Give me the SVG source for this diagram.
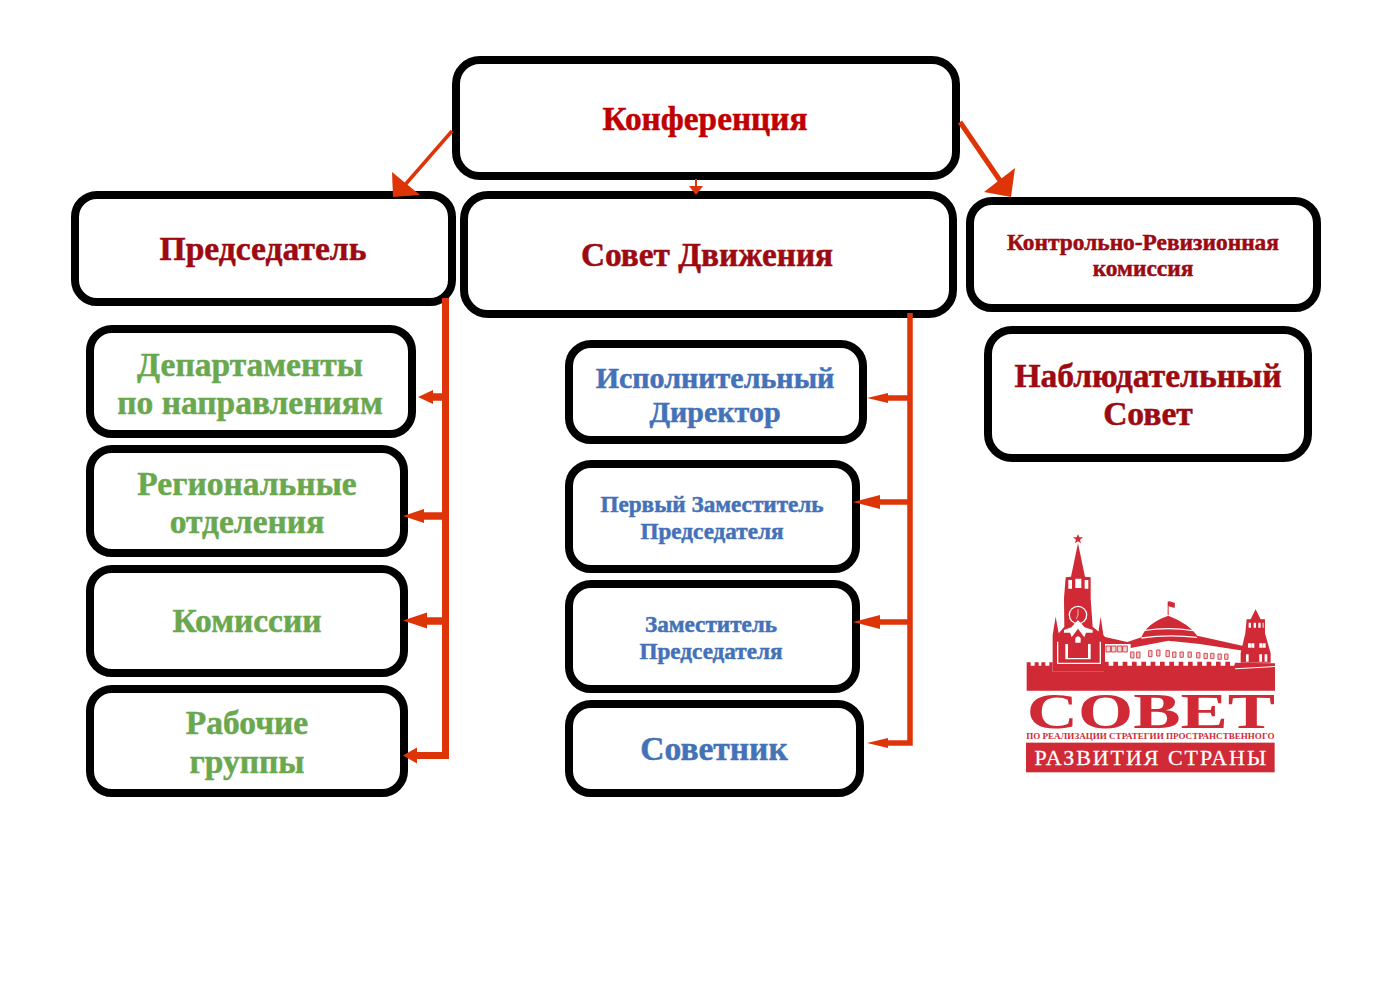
<svg xmlns="http://www.w3.org/2000/svg" width="1400" height="989" viewBox="0 0 1400 989">
<style>
.box{fill:#fff;stroke:#000;stroke-width:8}
text{font-family:"Liberation Serif","Times New Roman",serif;font-weight:bold;text-anchor:middle;stroke-width:.5}
.red{fill:#c00000;stroke:#c00000}.dark{fill:#9c0a12;stroke:#9c0a12}.green{fill:#6aa84f;stroke:#6aa84f}.blue{fill:#4472b8;stroke:#4472b8}
.trunk{fill:none;stroke:#de3508}
.head{fill:#de3508}
.w{fill:#fff}.l{fill:#cf2a35}.p{fill:#f3d5d5;stroke:#cf2a35;stroke-width:2.500}
</style>
<g id="konf"><rect class="box" x="456" y="60" width="500" height="116" rx="24"/><text class="red" x="705" y="130" font-size="33.300">Конференция</text></g>
<g id="pred"><rect class="box" x="75" y="195" width="377" height="107" rx="22"/><text class="dark" x="263" y="260" font-size="33.600">Председатель</text></g>
<g id="sovet"><rect class="box" x="464" y="195" width="489" height="119" rx="24"/><text class="dark" x="707" y="266" font-size="33.300">Совет Движения</text></g>
<g id="krk"><rect class="box" x="970" y="201" width="347" height="107" rx="22"/><text class="dark" font-size="23.400"><tspan x="1143" y="250">Контрольно-Ревизионная</tspan><tspan x="1143" y="276">комиссия</tspan></text></g>
<g id="nabl"><rect class="box" x="988" y="330" width="320" height="128" rx="24"/><text class="dark" font-size="33.600"><tspan x="1148" y="387">Наблюдательный</tspan><tspan x="1148" y="425">Совет</tspan></text></g>
<g id="dep"><rect class="box" x="90" y="329" width="322" height="105" rx="22"/><text class="green" font-size="33.500"><tspan x="250" y="376">Департаменты</tspan><tspan x="250" y="414">по направлениям</tspan></text></g>
<g id="reg"><rect class="box" x="90" y="449" width="314" height="104" rx="22"/><text class="green" font-size="33.500"><tspan x="247" y="495">Региональные</tspan><tspan x="247" y="533">отделения</tspan></text></g>
<g id="kom"><rect class="box" x="90" y="569" width="314" height="104" rx="22"/><text class="green" x="247" y="632" font-size="33.500">Комиссии</text></g>
<g id="rab"><rect class="box" x="90" y="689" width="314" height="104" rx="22"/><text class="green" font-size="33.500"><tspan x="247" y="734">Рабочие</tspan><tspan x="247" y="773">группы</tspan></text></g>
<g id="isp"><rect class="box" x="569" y="344" width="294" height="96" rx="22"/><text class="blue" font-size="30"><tspan x="715" y="388">Исполнительный</tspan><tspan x="715" y="422">Директор</tspan></text></g>
<g id="perv"><rect class="box" x="569" y="464" width="287" height="105" rx="22"/><text class="blue" font-size="23.200"><tspan x="712" y="512">Первый Заместитель</tspan><tspan x="712" y="539">Председателя</tspan></text></g>
<g id="zam"><rect class="box" x="569" y="584" width="287" height="105" rx="22"/><text class="blue" font-size="23.200"><tspan x="711" y="632">Заместитель</tspan><tspan x="711" y="659">Председателя</tspan></text></g>
<g id="sov"><rect class="box" x="569" y="704" width="291" height="89" rx="22"/><text class="blue" x="714" y="760" font-size="33.500">Советник</text></g>
<g id="connectors">
<path class="trunk" stroke-width="3.500" d="M452 131L404 186"/>
<path class="head" d="M393 197L392 172L420 195Z"/>
<path class="trunk" stroke-width="5" d="M960 122L1001 182"/>
<path class="head" d="M1011 197L1015 168L984 192Z"/>
<path class="trunk" stroke-width="2" d="M696 179V187"/>
<path class="head" d="M689 186H703L696 195Z"/>
<path class="trunk" stroke-width="7" d="M445.500 298V755.500H412"/>
<path class="trunk" stroke-width="7.500" d="M445 397H430M445 516H420M445 621H420"/>
<path class="head" d="M418 397L433 390V404ZM403 516L424 509V523ZM403 620.500L427 612.500V628.500ZM403 755.500L417 747.500V763.500Z"/>
<path class="trunk" stroke-width="5.500" d="M910 313V743H885"/>
<path class="trunk" stroke-width="5.500" d="M910 398H885M910 502H875M910 622H875"/>
<path class="head" d="M867 398L888 393V403ZM853 502L880 495V509ZM853 622L880 615V629ZM867 743L888 738V748Z"/>
</g>
<g id="logo" transform="translate(1000 520) scale(.3333)">
<path class="l" d="M234 42l4 10h11l-9 7 3 11-9-6-9 6 3-11-9-7h11zM234 70L255 170L272 172V235L278 320L315 350V455H158V345L167 290L176 340L193 320L192 235L197 172L213 170Z"/>
<path class="l" d="M302 290L311 350H293Z"/>
<path class="w" d="M205 180h11v26h-11zM226 176h18v28h-18zM254 180h11v26h-11z"/>
<circle cx="234" cy="285" r="28" class="w"/><circle cx="234" cy="285" r="24" class="l"/><path d="M234 268v17l-5 12" stroke="#fff" stroke-width="2" fill="none"/>
<path class="w" d="M192 330l22-8 20-22 20 22 24 8v8l-20 0-5 14-19-26-19 26-5-14-18 0z"/>
<path class="w" d="M171 365h4v66h-4zM299 365h4v66h-4zM171 428h132v4H171zM196 372h8v46h-8zM264 372h8v46h-8zM196 414h76v4H196z"/>
<path class="l" d="M205 372q29-44 58 0v42h-58z"/>
<path class="w" d="M226 354q8-10 16 0v14h-16z"/>
<path class="l" d="M312 350L382 366L424 352Q440 310 505 287Q565 310 592 347L730 378V392L600 372L505 362L392 384V372H312Z"/>
<path class="w" d="M432 330Q505 318 578 330L582 334Q505 322 428 334ZM424 352Q505 340 590 350L592 354Q505 344 424 356Z"/>
<path class="l" d="M503 245h3v40h-3zM506 243l19 6-1 15-18-5z"/>
<path class="l" d="M767 268L782 298H752ZM740 298H795V340L812 400V428H722V400L736 340Z"/>
<path class="w" d="M746 308h7v15h-7zM761 308h7v15h-7zM775 308h7v15h-7zM788 308h3v15h-3zM744 370h9v13h-9zM754 370h9v13h-9zM778 370h9v13h-9zM788 370h9v13h-9zM738 403h8v22h-8zM778 403h8v22h-8zM794 403h8v22h-8z"/>
<path class="p" d="M318 378h14v18h-14zM334 378h14v18h-14zM352 378h14v18h-14zM368 378h14v18h-14zM392 396h10v18h-10zM410 396h10v18h-10zM446 392h10v18h-10zM470 390h10v18h-10zM498 392h10v18h-10zM518 396h10v16h-10zM540 396h10v16h-10zM564 396h10v16h-10zM590 398h10v16h-10zM612 400h10v16h-10zM632 400h10v16h-10zM654 402h10v16h-10zM674 402h10v16h-10z"/>
<path class="l" d="M80 455V427H92V437H104V427H116V437H124V427H136V437H148V427H158V455H312V425H326V437H340V425H354V437H368V425H382V437H396V425H410V437H424V425H438V437H452V425H466V437H480V425H494V437H508V425H522V437H536V425H550V437H564V425H578V437H592V425H606V437H620V425H634V437H648V425H662V437H676V425H690V437H702V440L705 428L825 430V512H80Z"/>
<path class="w" d="M705 445L825 438V441L705 448Z"/>
<text x="453" y="625" class="l" font-size="150" textLength="745" lengthAdjust="spacingAndGlyphs">СОВЕТ</text>
<text x="451" y="656" class="l" font-size="27" textLength="745" lengthAdjust="spacingAndGlyphs">ПО РЕАЛИЗАЦИИ СТРАТЕГИИ ПРОСТРАНСТВЕННОГО</text>
<rect class="l" x="78" y="668" width="746" height="89"/>
<text x="451" y="735" class="w" font-size="66" textLength="695" lengthAdjust="spacing" style="font-weight:normal;stroke:#fff;stroke-width:.8">РАЗВИТИЯ СТРАНЫ</text>
</g>
</svg>
